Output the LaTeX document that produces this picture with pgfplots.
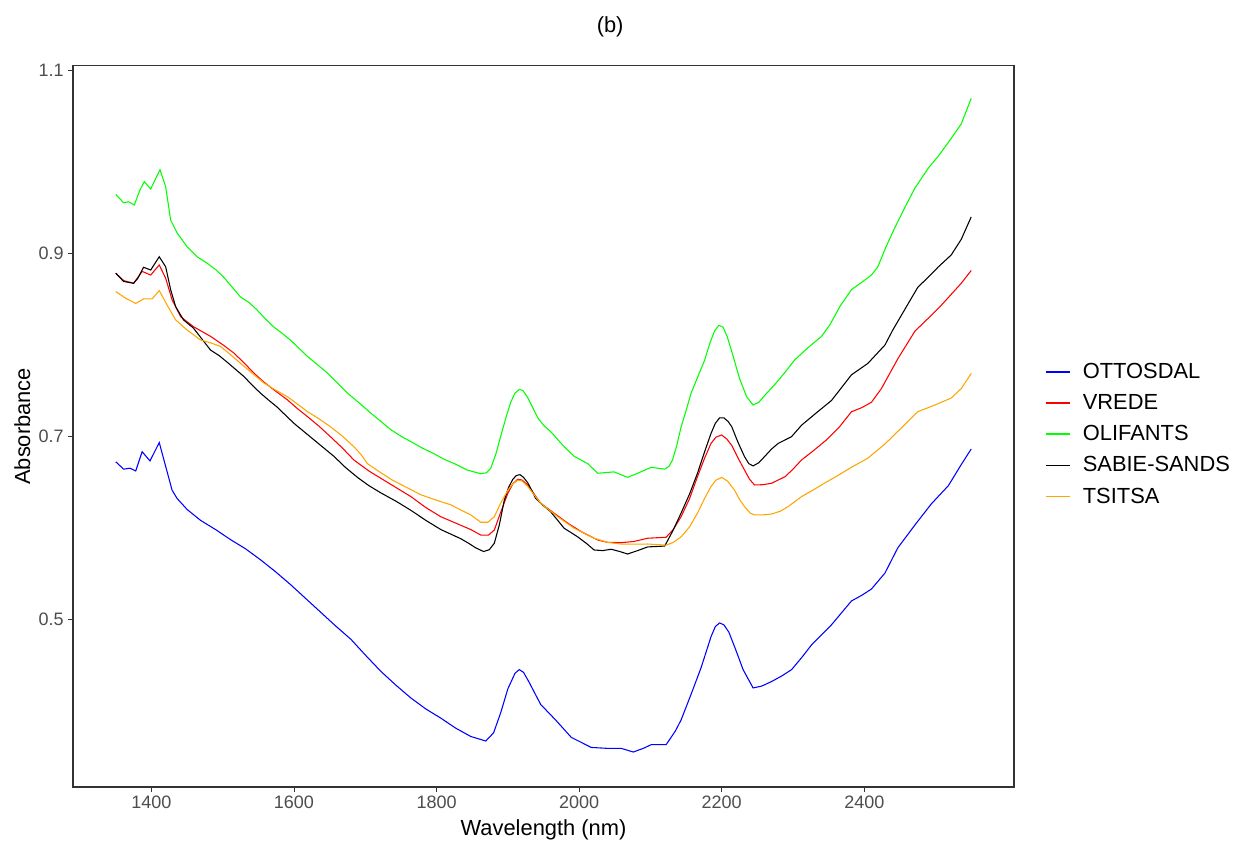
\documentclass[border=0pt]{standalone}
\usepackage{pgfplots}
\pgfplotsset{compat=1.18}
\usepackage{fontspec}
\setmainfont{Liberation Sans}
\definecolor{tickgray}{HTML}{4D4D4D}
\definecolor{framegray}{HTML}{333333}
\definecolor{cblue}{HTML}{0000FF}
\definecolor{cred}{HTML}{FF0000}
\definecolor{cgreen}{HTML}{00FF00}
\definecolor{cblack}{HTML}{000000}
\definecolor{corange}{HTML}{FFA500}

\pgfplotstableread{
x y
1350 0.672
1361 0.664
1370 0.665
1378 0.662
1387 0.683
1398 0.673
1411 0.693
1420 0.667
1429 0.641
1436 0.632
1450 0.620
1469 0.608
1490 0.598
1511 0.587
1532 0.577
1553 0.565
1574 0.552
1595 0.538
1616 0.523
1637 0.508
1658 0.493
1680 0.478
1700 0.461
1722 0.443
1743 0.428
1764 0.414
1785 0.402
1806 0.392
1827 0.381
1848 0.372
1869 0.367
1880 0.376
1890 0.398
1900 0.424
1910 0.441
1916 0.445
1922 0.442
1930 0.431
1946 0.407
1967 0.390
1989 0.371
2017 0.360
2040 0.359
2059 0.359
2076 0.355
2090 0.359
2101 0.363
2122 0.363
2135 0.378
2143 0.390
2157 0.418
2171 0.447
2185 0.481
2191 0.492
2197 0.496
2203 0.494
2210 0.486
2220 0.466
2230 0.445
2244 0.425
2256 0.427
2270 0.432
2284 0.438
2298 0.445
2312 0.458
2326 0.472
2340 0.483
2354 0.494
2368 0.507
2382 0.520
2396 0.526
2410 0.533
2429 0.5505
2447 0.578
2471 0.603
2494 0.626
2518 0.646
2536 0.669
2550 0.686
}\ottosdal

\pgfplotstableread{
x y
1350 0.878
1361 0.870
1375 0.867
1387 0.880
1399 0.876
1411 0.887
1420 0.8725
1429 0.849
1441 0.8305
1459 0.8196
1483 0.809
1500 0.800
1516 0.7906
1530 0.780
1544 0.7687
1558 0.759
1572 0.7505
1591 0.7395
1605 0.730
1619 0.7213
1635 0.711
1651 0.6995
1668 0.687
1684 0.674
1705 0.662
1726 0.652
1745 0.643
1764 0.634
1785 0.622
1806 0.612
1827 0.605
1848 0.598
1862 0.592
1873 0.592
1881 0.5975
1890 0.617
1900 0.6376
1907 0.648
1914 0.653
1920 0.652
1928 0.6467
1946 0.6267
1965 0.6158
1984 0.605
2003 0.5957
2026 0.5866
2040 0.584
2059 0.5837
2077 0.585
2096 0.5885
2122 0.5896
2132 0.598
2143 0.612
2155 0.632
2166 0.6558
2176 0.676
2185 0.6922
2192 0.699
2200 0.7013
2207 0.697
2214 0.690
2223 0.676
2232 0.663
2239 0.653
2246 0.6467
2258 0.647
2270 0.6486
2289 0.6558
2300 0.664
2312 0.674
2330 0.685
2347 0.696
2365 0.710
2382 0.7267
2396 0.731
2410 0.737
2424 0.752
2447 0.7845
2471 0.8147
2494 0.832
2508 0.843
2522 0.855
2536 0.867
2550 0.881
}\vrede

\pgfplotstableread{
x y
1350 0.964
1361 0.955
1368 0.956
1376 0.9525
1384 0.969
1390 0.978
1399 0.970
1412 0.991
1420 0.9725
1427 0.936
1436 0.922
1450 0.907
1464 0.896
1478 0.889
1490 0.882
1501 0.874
1513 0.863
1525 0.852
1537 0.846
1548 0.838
1560 0.828
1572 0.819
1584 0.812
1595 0.805
1607 0.796
1619 0.787
1633 0.778
1647 0.769
1661 0.758
1675 0.747
1692 0.736
1708 0.725
1722 0.716
1736 0.707
1750 0.700
1764 0.694
1780 0.687
1796 0.681
1810 0.675
1825 0.670
1843 0.663
1862 0.659
1870 0.660
1876 0.665
1883 0.680
1890 0.700
1898 0.722
1904 0.737
1910 0.747
1916 0.751
1921 0.750
1928 0.742
1935 0.731
1942 0.720
1950 0.712
1960 0.705
1979 0.6885
1993 0.678
2012 0.670
2026 0.6595
2049 0.661
2068 0.655
2082 0.6595
2101 0.666
2120 0.664
2126 0.667
2131 0.674
2137 0.690
2143 0.710
2150 0.728
2157 0.747
2166 0.764
2176 0.783
2184 0.803
2190 0.815
2196 0.821
2202 0.819
2208 0.808
2215 0.790
2225 0.763
2235 0.743
2244 0.734
2252 0.737
2262 0.746
2274 0.756
2288 0.769
2302 0.783
2320 0.796
2340 0.809
2352 0.822
2366 0.842
2382 0.860
2398 0.869
2410 0.876
2419 0.885
2430 0.906
2443 0.928
2457 0.950
2471 0.971
2490 0.993
2504 1.006
2518 1.021
2536 1.041
2550 1.069
}\olifants

\pgfplotstableread{
x y
1350 0.878
1361 0.869
1375 0.867
1381 0.8725
1389 0.8845
1399 0.8815
1411 0.896
1420 0.885
1427 0.860
1434 0.8415
1445 0.827
1459 0.818
1471 0.806
1483 0.794
1495 0.788
1506 0.781
1518 0.773
1530 0.765
1541 0.756
1553 0.747
1565 0.739
1576 0.732
1588 0.723
1600 0.714
1614 0.705
1628 0.696
1642 0.687
1656 0.678
1672 0.666
1689 0.655
1705 0.646
1722 0.638
1743 0.629
1764 0.619
1785 0.608
1806 0.598
1820 0.593
1834 0.588
1845 0.583
1855 0.578
1866 0.574
1874 0.576
1881 0.583
1888 0.603
1895 0.630
1901 0.644
1907 0.653
1912 0.657
1917 0.658
1922 0.655
1928 0.649
1934 0.640
1939 0.632
1950 0.624
1960 0.6175
1970 0.608
1979 0.5994
1988 0.595
1998 0.590
2010 0.583
2021 0.5757
2033 0.575
2045 0.5765
2057 0.574
2068 0.5713
2082 0.575
2096 0.579
2120 0.580
2131 0.596
2143 0.616
2155 0.637
2166 0.6595
2176 0.683
2185 0.703
2191 0.714
2197 0.720
2203 0.720
2209 0.716
2214 0.7104
2223 0.693
2232 0.6776
2238 0.670
2244 0.6675
2252 0.671
2260 0.6776
2270 0.686
2279 0.692
2298 0.6995
2312 0.712
2332 0.725
2354 0.739
2368 0.753
2382 0.767
2405 0.7795
2429 0.7996
2440 0.816
2452 0.832
2464 0.848
2475 0.8625
2490 0.874
2504 0.885
2522 0.898
2536 0.915
2550 0.9395
}\sabie

\pgfplotstableread{
x y
1350 0.858
1364 0.8506
1378 0.845
1389 0.850
1401 0.850
1411 0.859
1422 0.8433
1434 0.827
1450 0.816
1469 0.805
1483 0.802
1497 0.798
1511 0.789
1525 0.7796
1541 0.769
1558 0.758
1575 0.750
1591 0.743
1605 0.735
1619 0.7268
1635 0.719
1651 0.7104
1668 0.700
1684 0.6885
1694 0.680
1703 0.670
1720 0.661
1738 0.652
1758 0.644
1778 0.636
1800 0.630
1820 0.625
1835 0.619
1848 0.614
1862 0.606
1872 0.606
1881 0.612
1890 0.627
1900 0.641
1907 0.648
1914 0.652
1920 0.651
1928 0.645
1946 0.6267
1970 0.612
1993 0.5994
2021 0.5885
2040 0.584
2059 0.5822
2077 0.582
2096 0.5822
2122 0.581
2132 0.584
2143 0.590
2155 0.601
2166 0.616
2176 0.632
2185 0.645
2192 0.652
2200 0.655
2208 0.651
2218 0.641
2225 0.631
2232 0.623
2240 0.616
2246 0.614
2258 0.614
2270 0.615
2282 0.618
2293 0.623
2312 0.634
2330 0.642
2347 0.650
2365 0.658
2382 0.666
2405 0.676
2429 0.6915
2452 0.709
2475 0.7267
2499 0.734
2522 0.7417
2536 0.752
2550 0.7685
}\tsitsa

\begin{document}
\begin{tikzpicture}
\useasboundingbox (-54.75pt,-42pt) rectangle (877.5pt,590.25pt);
\begin{axis}[
  at={(0pt,0pt)}, anchor=south west,
  scale only axis,
  width=705.75pt, height=541pt,
  xmin=1290, xmax=2610, ymin=0.3168, ymax=1.1047,
  xtick={1400,1600,...,2400},
  ytick={0.5,0.7,0.9,1.1},
  /pgf/number format/assume math mode=true,
  xticklabel style={/pgf/number format/1000 sep={}, font=\fontsize{13.5}{16}\selectfont, text=tickgray},
  yticklabel style={/pgf/number format/fixed, /pgf/number format/fixed zerofill, /pgf/number format/precision=1, font=\fontsize{13.5}{16}\selectfont, text=tickgray},
  tick align=outside,
  tick pos=left,
  major tick length=3.5pt,
  tick style={framegray, line width=0.6pt},
  axis line style={framegray, line width=0.8pt},
  xlabel={Wavelength (nm)},
  ylabel={Absorbance},
  label style={font=\fontsize{16.4}{19}\selectfont},
  xlabel style={at={(axis description cs:0.5,0)}, anchor=center, yshift=-32pt},
  ylabel style={at={(axis description cs:0,0.5)}, anchor=center, yshift=38pt},
  title={(b)},
  title style={font=\fontsize{16.4}{19}\selectfont, at={(axis description cs:0.5,1)}, anchor=center, yshift=23pt, xshift=50pt},
  legend style={draw=none, fill=none, at={(1,0.489)}, anchor=west, xshift=20.5pt,
    font=\fontsize{16.4}{19}\selectfont, row sep=6.4pt, cells={anchor=west}},
  legend cell align=left,
  legend image code/.code={\draw[line width=1.1pt] (0pt,0pt) -- (18pt,0pt); \path (25pt,0pt);},
  every axis plot/.append style={line width=0.8pt},
]
\addplot[color=cblue, no markers] table {\ottosdal};
\addlegendentry{OTTOSDAL}
\addplot[color=cred, no markers] table {\vrede};
\addlegendentry{VREDE}
\addplot[color=cgreen, no markers] table {\olifants};
\addlegendentry{OLIFANTS}
\addplot[color=cblack, no markers] table {\sabie};
\addlegendentry{SABIE-SANDS}
\addplot[color=corange, no markers] table {\tsitsa};
\addlegendentry{TSITSA}
\end{axis}
\end{tikzpicture}
\end{document}
